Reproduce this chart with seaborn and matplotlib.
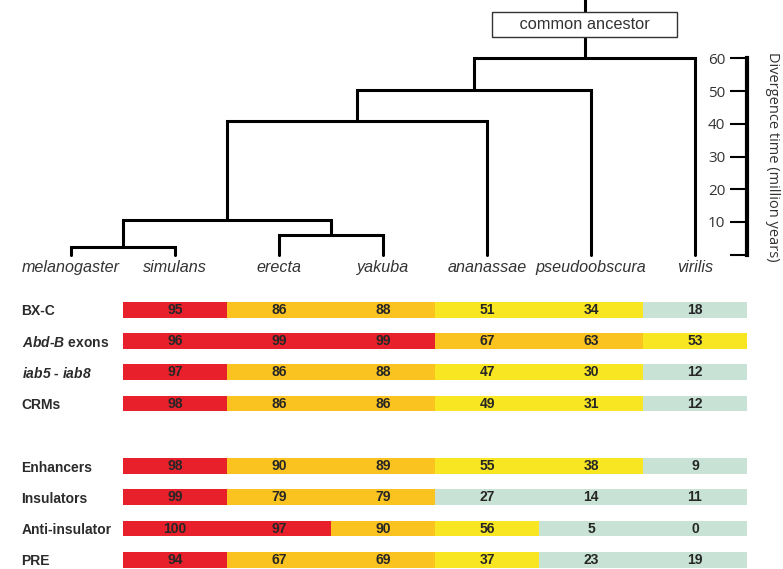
import numpy as np
import pandas as pd
import seaborn as sns
import matplotlib.pyplot as plt
from matplotlib.colors import ListedColormap, BoundaryNorm

# Species (tips of the tree, left to right); columns of the table are species[1:]
species = ["melanogaster", "simulans", "erecta", "yakuba", "ananassae", "pseudoobscura", "virilis"]

# Tree merges (scipy-like): ids >= 7 refer to earlier merges, last value = divergence time (Myr)
merges = [(0, 1, 2.4), (2, 3, 6.0), (7, 8, 10.6), (9, 4, 40.8), (10, 5, 50.3), (11, 6, 60.0)]

# Row labels
elements_top = ["BX-C", r"$\mathbfit{Abd}$-$\mathbfit{B}$ exons",
                r"$\mathbfit{iab5}$ - $\mathbfit{iab8}$", "CRMs"]
elements_bottom = ["Enhancers", "Insulators", "Anti-insulator", "PRE"]

# % conservation per species (simulans .. virilis)
bxc = [95, 86, 88, 51, 34, 18]
abdb_exons = [96, 99, 99, 67, 63, 53]
iab5_iab8 = [97, 86, 88, 47, 30, 12]
crms = [98, 86, 86, 49, 31, 12]
enhancers = [98, 90, 89, 55, 38, 9]
insulators = [99, 79, 79, 27, 14, 11]
anti_insulator = [100, 97, 90, 56, 5, 0]
pre = [94, 67, 69, 37, 23, 19]

level_bounds = [0, 29.5, 59.5, 90.5, 100.5]
level_colors = ["#c8e3d6", "#f9e622", "#fbc320", "#e8202b"]

sns.set_theme(style="white")
plt.rcParams['font.family'] = ['Liberation Sans', 'DejaVu Sans']
plt.rcParams['mathtext.fontset'] = 'custom'
plt.rcParams['mathtext.bfit'] = 'Liberation Sans:italic:bold'
plt.rcParams['mathtext.rm'] = 'Liberation Sans'

# Build table with blank spacer rows between bars
gap = [np.nan] * 6
rows, labels = [], []
for lab, vals in zip(elements_top, [bxc, abdb_exons, iab5_iab8, crms]):
    rows += [vals, gap]
    labels += [lab, ""]
rows += [gap, gap]
labels += ["", ""]
for lab, vals in zip(elements_bottom, [enhancers, insulators, anti_insulator, pre]):
    rows += [vals, gap]
    labels += [lab, ""]
rows, labels = rows[:-1], labels[:-1]
df = pd.DataFrame(rows, columns=species[1:])

W, H = 783, 569
fig = plt.figure(figsize=(W / 100, H / 100), dpi=100, facecolor="white")

# Bars (heatmap)
ax_bar = fig.add_axes([123 / W, 1 - 567.6 / H, (747 - 123) / W, (567.6 - 302) / H])
sns.heatmap(df, ax=ax_bar, cmap=ListedColormap(level_colors),
            norm=BoundaryNorm(level_bounds, len(level_colors)),
            annot=True, fmt=".0f",
            annot_kws=dict(fontsize=10, fontweight="bold", color="#262626"),
            cbar=False, xticklabels=False, yticklabels=False)
ticks = [i + 0.5 for i, l in enumerate(labels) if l]
ax_bar.set_yticks(ticks)
ax_bar.set_yticklabels([l for l in labels if l], fontsize=10, fontweight="bold", color="#2b2b2b")
ax_bar.tick_params(axis="y", length=0, pad=73)
for t in ax_bar.get_yticklabels():
    t.set_ha("left")

# Tree
ax_tree = fig.add_axes([19 / W, 1 - 254.7 / H, (747 - 19) / W, (254.7 - 58.3) / H])
xs = list(range(len(species)))
hs = [0.0] * len(species)
for a, b, h in merges:
    ax_tree.plot([xs[a], xs[a], xs[b], xs[b]], [hs[a], h, h, hs[b]],
                 color="black", lw=2.2, solid_joinstyle="miter", clip_on=False)
    xs.append((xs[a] + xs[b]) / 2)
    hs.append(h)
ax_tree.plot([xs[-1], xs[-1]], [hs[-1], 78], color="black", lw=2.2, clip_on=False)
ax_tree.text(xs[-1], 70.4, "     common ancestor     ", ha="center", va="center",
             fontsize=11.8, color="#333333", zorder=5,
             bbox=dict(boxstyle="square,pad=0.3", fc="white", ec="#333333", lw=1))

ax_tree.set_xlim(-0.5, 6.5)
ax_tree.set_ylim(0, 60)
ax_tree.set_facecolor("none")
for s in ["top", "left", "bottom"]:
    ax_tree.spines[s].set_visible(False)
ax_tree.spines["right"].set_linewidth(3)
ax_tree.spines["right"].set_color("black")

ax_tree.set_xticks(range(len(species)))
ax_tree.set_xticklabels(species, style="italic", fontsize=11.6, color="#333333")
ax_tree.tick_params(axis="x", length=0, pad=4)

ax_tree.yaxis.tick_right()
ax_tree.set_yticks(range(0, 61, 10))
ax_tree.set_yticklabels([""] + [str(v) for v in range(10, 61, 10)],
                        family=["Open Sans", "DejaVu Sans"], color="#333333")
ax_tree.tick_params(axis="y", direction="in", length=12, width=1.5, pad=-28,
                    labelsize=11, color="black")
ax_tree.yaxis.set_label_position("right")
ax_tree.set_ylabel("Divergence time (million years)", rotation=270, labelpad=24,
                   family=["Open Sans", "DejaVu Sans"], fontsize=10.5, color="#333333")

fig.savefig("out.png", dpi=100, facecolor="white")
